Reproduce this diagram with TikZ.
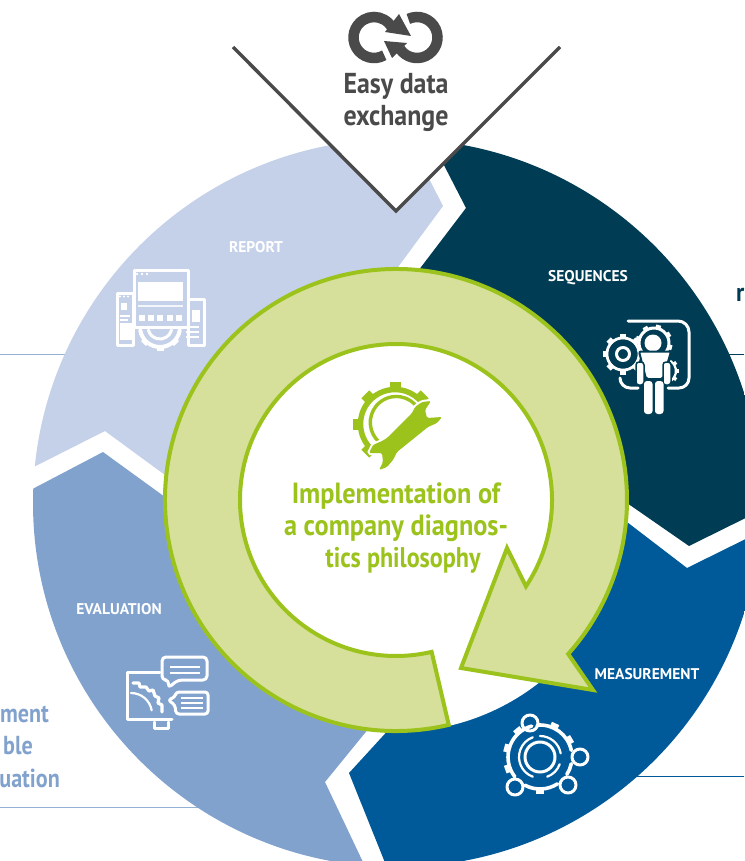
\documentclass[tikz,border=0pt]{standalone}
\usepackage{fontspec}
\setmainfont{PT Sans}
\newfontfamily\cond[FakeStretch=0.9]{PT Sans}
\newfontfamily\condside[FakeStretch=0.85]{PT Sans}
\definecolor{cReport}{HTML}{C5D0E9}
\definecolor{cSeq}{HTML}{003C54}
\definecolor{cMeas}{HTML}{005A9A}
\definecolor{cEval}{HTML}{82A2CE}
\definecolor{cGreen}{HTML}{9BC31C}
\definecolor{cRing}{HTML}{D6E09B}
\definecolor{cGrey}{HTML}{4A4A4A}
\tikzset{
  seglabel/.style={text=white,font=\bfseries\fontsize{15.5}{17}\selectfont,inner sep=0pt},
  toplabel/.style={text=cGrey,font=\cond\bfseries\fontsize{28.8}{30}\selectfont,inner sep=0pt},
  midlabel/.style={text=cGreen,font=\cond\bfseries\fontsize{29.2}{30}\selectfont,inner sep=0pt},
  sidelabel/.style={text=cEval,font=\condside\bfseries\fontsize{26}{30}\selectfont,inner sep=0pt,anchor=east},
  icon/.style={draw=white,line width=3,line cap=round,line join=round},
  thinicon/.style={draw=white,line width=2.2,line cap=round,line join=round},
  rule/.style={line width=1}
}
\begin{document}
\begin{tikzpicture}[x=1pt,y=1pt,yscale=-1]
\useasboundingbox (0,0) rectangle (744,861);
% thin rules
\coordinate (ruleLa) at (0,354); \coordinate (ruleLb) at (70,354);
\coordinate (ruleRa) at (725,354); \coordinate (ruleRb) at (744,354);
\coordinate (ruleBLa) at (0,807); \coordinate (ruleBLb) at (210,807);
\coordinate (ruleBRa) at (620,776); \coordinate (ruleBRb) at (744,776);
\draw[rule,cEval!85] (ruleLa) -- (ruleLb);
\draw[rule,cSeq] (ruleRa) -- (ruleRb);
\draw[rule,cEval!85] (ruleBLa) -- (ruleBLb);
\draw[rule,cMeas] (ruleBRa) -- (ruleBRb);
% segments
\begin{scope}
\clip (397,503) circle[radius=364];
\fill[cReport] (420,161) -- (443,206) -- (390,278) -- (396,500) -- (165,475) -- (105,431) -- (10,479) -- (0,100) -- (420,100) -- cycle;
\fill[cSeq] (430,138) -- (466,208) -- (415,275) -- (396,500) -- (627,503) -- (689,546) -- (780,501) -- (780,100) -- (430,100) -- cycle;
\fill[cMeas] (610,509) -- (687,568) -- (780,522) -- (780,900) -- (400,900) -- (349,773) -- (480,630) -- cycle;
\fill[cEval] (103,452) -- (0,506) -- (0,900) -- (381,900) -- (325,782) -- (400,690) -- (300,590) -- (165,497) -- cycle;
\end{scope}
% centre disc and ring arrow
\fill[white] (396,500) circle[radius=232];
\begin{scope}[shift={(396,500)}]
\draw[cGreen,fill=cRing,line width=4,line join=miter,miter limit=10]
  (76.8:231) arc[start angle=76.8,end angle=401.8,radius=231]
  -- (197,190) -- (65,168) -- (111,48) -- (33.6:156)
  arc[start angle=393.6,end angle=76.8,radius=156] -- cycle;
\end{scope}
% V
\coordinate (va) at (233,47); \coordinate (vb) at (396,211); \coordinate (vc) at (560,47);
\fill[white] (va) -- (vb) -- (vc) -- cycle;
\draw[cGrey,line width=3.4,line join=miter] (va) -- (vb) -- (vc);
% exchange icon
\draw[cGrey,line width=10.5] (374,37.5)+(60:20.5) arc[start angle=60,end angle=332,radius=20.5];
\draw[cGrey,line width=10.5] (417,37.5)+(245:20.5) arc[start angle=245,end angle=505,radius=20.5];
\fill[cGrey] (399,14) -- (411,36) -- (385,32) -- cycle;
\fill[cGrey] (384,41) -- (407,43) -- (392,58) -- cycle;
% labels
\node[toplabel] (easy) at (396,86) {Easy data};
\node[toplabel] (exch) at (396,118) {exchange};
\node[seglabel] (rep) at (256,247) {REPORT};
\node[seglabel] (seq) at (588,278) {SEQUENCES};
\node[seglabel] (mea) at (647,674) {MEASUREMENT};
\node[seglabel] (eva) at (119,609) {EVALUATION};
\node[midlabel] (m1) at (396,496) {Implementation of};
\node[midlabel] (m2) at (396,528) {a company diagnos-};
\node[midlabel,font=\condside\bfseries\fontsize{28.4}{30}\selectfont] (m3) at (403,560) {tics philosophy};
\node[sidelabel] (s1) at (49,714) {ment};
\node[sidelabel] (s2) at (33,746) {ble};
\node[sidelabel] (s3) at (60,778) {uation};
\node[text=cSeq,font=\cond\bfseries\fontsize{26}{30}\selectfont,inner sep=0pt,anchor=west] (rr) at (736,295) {r};
% gear-wrench icon
\begin{scope}[shift={(395,424)}]
\draw[cGreen,line width=5.5] (138:34.5) arc[start angle=138,end angle=322,radius=34.5];
\foreach \a in {135,180,225,270,315} \draw[cGreen,line width=11] (\a:33) -- (\a:42);
\draw[cGreen,line width=3.4] (130:24) arc[start angle=130,end angle=325,radius=26];
\end{scope}
\draw[white,line width=4,fill=cGreen,rounded corners=1.5] (387,438) -- (412,413) -- (415,407) -- (422,402) -- (431,401) -- (425,410) -- (427,418) -- (442,417) -- (437,423) -- (428,427) -- (397,452) -- (393,460) -- (387,467) -- (379,470) -- (383,462) -- (382,453) -- (369,453) -- (373,445) -- (382,441) -- cycle;
\fill[cGreen,rounded corners=1.5] (387,438) -- (412,413) -- (415,407) -- (422,402) -- (431,401) -- (425,410) -- (427,418) -- (442,417) -- (437,423) -- (428,427) -- (397,452) -- (393,460) -- (387,467) -- (379,470) -- (383,462) -- (382,453) -- (369,453) -- (373,445) -- (382,441) -- cycle;
% report icon
\begin{scope}[shift={(160,327)}]
\draw[icon,line width=4] (10:20) arc[start angle=10,end angle=170,radius=20];
\draw[icon] (15:12) arc[start angle=15,end angle=165,radius=12];
\foreach \a in {45,90,135} \draw[white,line width=7] (\a:19) -- (\a:23.5);
\end{scope}
\draw[icon,fill=cReport] (117,293) rectangle (133,345);
\draw[icon,fill=cReport] (188,299) rectangle (204,345);
\fill[white] (121,303) rectangle (127,310);
\draw[white,line width=1.5] (120,316) -- (130,316) (120,320) -- (128,320);
\fill[white] (120,323) rectangle (132,340);
\foreach \x in {120,124,128} \fill[white] (\x,296.5) circle[radius=1.2];
\fill[white] (192,310) rectangle (200,322);
\draw[white,line width=1.5] (186,327) -- (199,327) (186,332) -- (199,332) (186,337) -- (199,337);
\draw[icon,fill=cReport] (134,270) rectangle (188,327);
\foreach \x in {137,142,147} \fill[white] (\x,274) circle[radius=1.4];
\fill[white] (138,282) rectangle (183,301);
\draw[white,line width=2,opacity=.8] (138,306) -- (183,306);
\foreach \x in {142,151,160,170,179} \fill[white] (\x-3,315) rectangle (\x+3,321);
% sequences icon
\draw[icon] (628,321) -- (678,321) arc[start angle=270,end angle=360,radius=11] -- (689,378) arc[start angle=0,end angle=90,radius=10] -- (668,388);
\draw[icon] (620,378) arc[start angle=180,end angle=90,radius=10] -- (638,388);
\begin{scope}[shift={(623,354)}]
\draw[icon,fill=cSeq] (0,0) circle[radius=16];
\foreach \a in {0,45,...,315} \draw[white,line width=6] (\a:16) -- (\a:20.5);
\fill[cSeq] (0,0) circle[radius=14.5];
\draw[icon] (0,0) circle[radius=6.5];
\end{scope}
\begin{scope}[shift={(654,343)}]
\draw[icon] (130:15) arc[start angle=130,end angle=400,radius=15];
\foreach \a in {150,195,240,285,330,375} \draw[white,line width=5] (\a:15) -- (\a:18.5);
\end{scope}
\begin{scope}[shift={(664,371)}]
\draw[thinicon] (-55:12) arc[start angle=-55,end angle=70,radius=12];
\foreach \a in {-35,0,35,70} \draw[white,line width=3.5] (\a:12) -- (\a:15);
\end{scope}
\fill[cSeq] (653,343) circle[radius=11];
\fill[white] (653,343) circle[radius=8.5];
\draw[cSeq,line width=2,fill=white,rounded corners=2] (639,351.5) -- (671,351.5) -- (663,379) -- (646,379) -- cycle;
\draw[cSeq,line width=1.5,fill=white,rounded corners=3] (636,362) rectangle (644,385);
\draw[cSeq,line width=1.5,fill=white,rounded corners=3] (663,362) rectangle (671,385);
\fill[white,rounded corners=3] (644,381) rectangle (652.5,414);
\fill[white,rounded corners=3] (655,381) rectangle (663.5,414);
% measurement icon
\begin{scope}[shift={(540,757)}]
\draw[icon] (0,0) circle[radius=15];
\draw[thinicon] (-90:21) arc[start angle=-90,end angle=-10,radius=21];
\draw[thinicon] (20:21) arc[start angle=20,end angle=70,radius=21];
\draw[thinicon] (110:21) arc[start angle=110,end angle=250,radius=21];
\draw[icon,line width=3.6] (-95:32) arc[start angle=-95,end angle=-12,radius=32];
\draw[icon,line width=3.6] (12:32) arc[start angle=12,end angle=33,radius=32];
\draw[icon,line width=3.6] (57:32) arc[start angle=57,end angle=118,radius=32];
\draw[icon,line width=3.6] (142:32) arc[start angle=142,end angle=255,radius=32];
\foreach \a in {-65,-30,90,160,195,230} \draw[white,line width=8] (\a:31) -- (\a:37);
\end{scope}
\foreach \x/\y in {530/723,580/757,515/787,568/785} \draw[icon] (\x,\y) circle[radius=8];
% evaluation icon
\draw[icon] (160,672) -- (127,672) -- (127,719) -- (172,719);
\draw[icon] (154,722) -- (154,728) -- (168,728) -- (168,722);
\draw[icon,line width=3.2] (133,683) -- (139,683) -- (140,687) -- (146,687) -- (149,691) -- (153,690) -- (155,696) -- (159,698) -- (158,703) -- (162,705) -- (162,712);
\draw[thinicon] (131,693) arc[start angle=270,end angle=350,radius=21];
\draw[icon,fill=cEval,rounded corners=4] (162,657) -- (207,657) -- (207,680) -- (178,680) -- (168,688) -- (169,680) -- (162,680) -- cycle;
\draw[white,line width=2.4] (170,667) -- (200,667) (170,673) -- (200,673);
\draw[icon,fill=cEval,rounded corners=3] (176,692) -- (208,692) -- (208,714) -- (176,714) -- (175,705) -- (168,700) -- (175,697) -- cycle;
\draw[white,line width=2.4] (181,698) -- (203,698) (181,703) -- (203,703) (181,708) -- (203,708);
\end{tikzpicture}
\end{document}
